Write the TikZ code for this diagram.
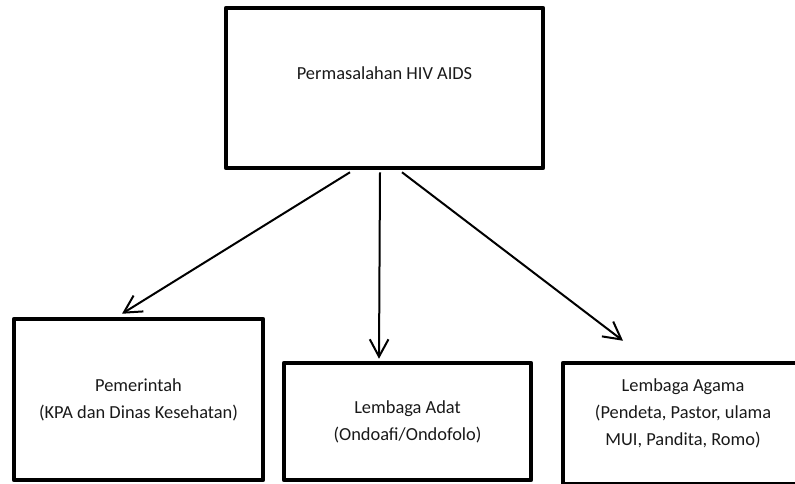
\documentclass[tikz,border=0pt]{standalone}
\usepackage{fontspec}
\setmainfont{Carlito}
\usetikzlibrary{arrows.meta,calc}

\tikzset{
  box/.style={draw=black, line width=3.4pt, rectangle, inner sep=0pt, line join=round},
  boxtext/.style={align=center, font=\fontsize{13.8pt}{20.25pt}\selectfont, text=black!90},
  link/.style={draw=black, line width=1.5pt,
    -{Straight Barb[length=13pt,width=14pt,line width=1.5pt]}}
}

\begin{document}
\begin{tikzpicture}[x=0.75pt, y=-0.75pt]
  \useasboundingbox (0,0) rectangle (795,483);
  \clip (0,0) rectangle (795,483);

  % central problem box
  \node[box, minimum width=237.75pt, minimum height=120pt] (problem) at (384.5,88) {};
  \node[boxtext] (problemtext) at ($(problem.center)+(0,-15)$) {Permasalahan HIV AIDS};

  % actor boxes
  \node[box, boxtext, minimum width=186.75pt, minimum height=120.75pt] (gov) at (138.5,399.5)
    {Pemerintah\\(KPA dan Dinas Kesehatan)};
  \node[box, boxtext, minimum width=185.25pt, minimum height=87.75pt] (adat) at (407.5,421.5)
    {Lembaga Adat\\(Ondoafi/Ondofolo)};
  \node[box, minimum width=185.25pt, minimum height=90.75pt] (agama) at (686.5,423.5) {};
  \node[boxtext] (agamatext) at ($(agama.center)+(-3.5,-10.5)$)
    {Lembaga Agama\\(Pendeta, Pastor, ulama\\MUI, Pandita, Romo)};

  % connectors
  \draw[link] ($(problem.south)+(-34.5,2)$) -- ($(gov.north)+(-16.5,-3)$);
  \draw[link] ($(problem.south)+(-4.5,2)$) -- ($(adat.north)+(-28.5,-2)$);
  \draw[link] ($(problem.south)+(17.5,2)$) -- ($(agama.north)+(-63.5,-20)$);
\end{tikzpicture}
\end{document}
